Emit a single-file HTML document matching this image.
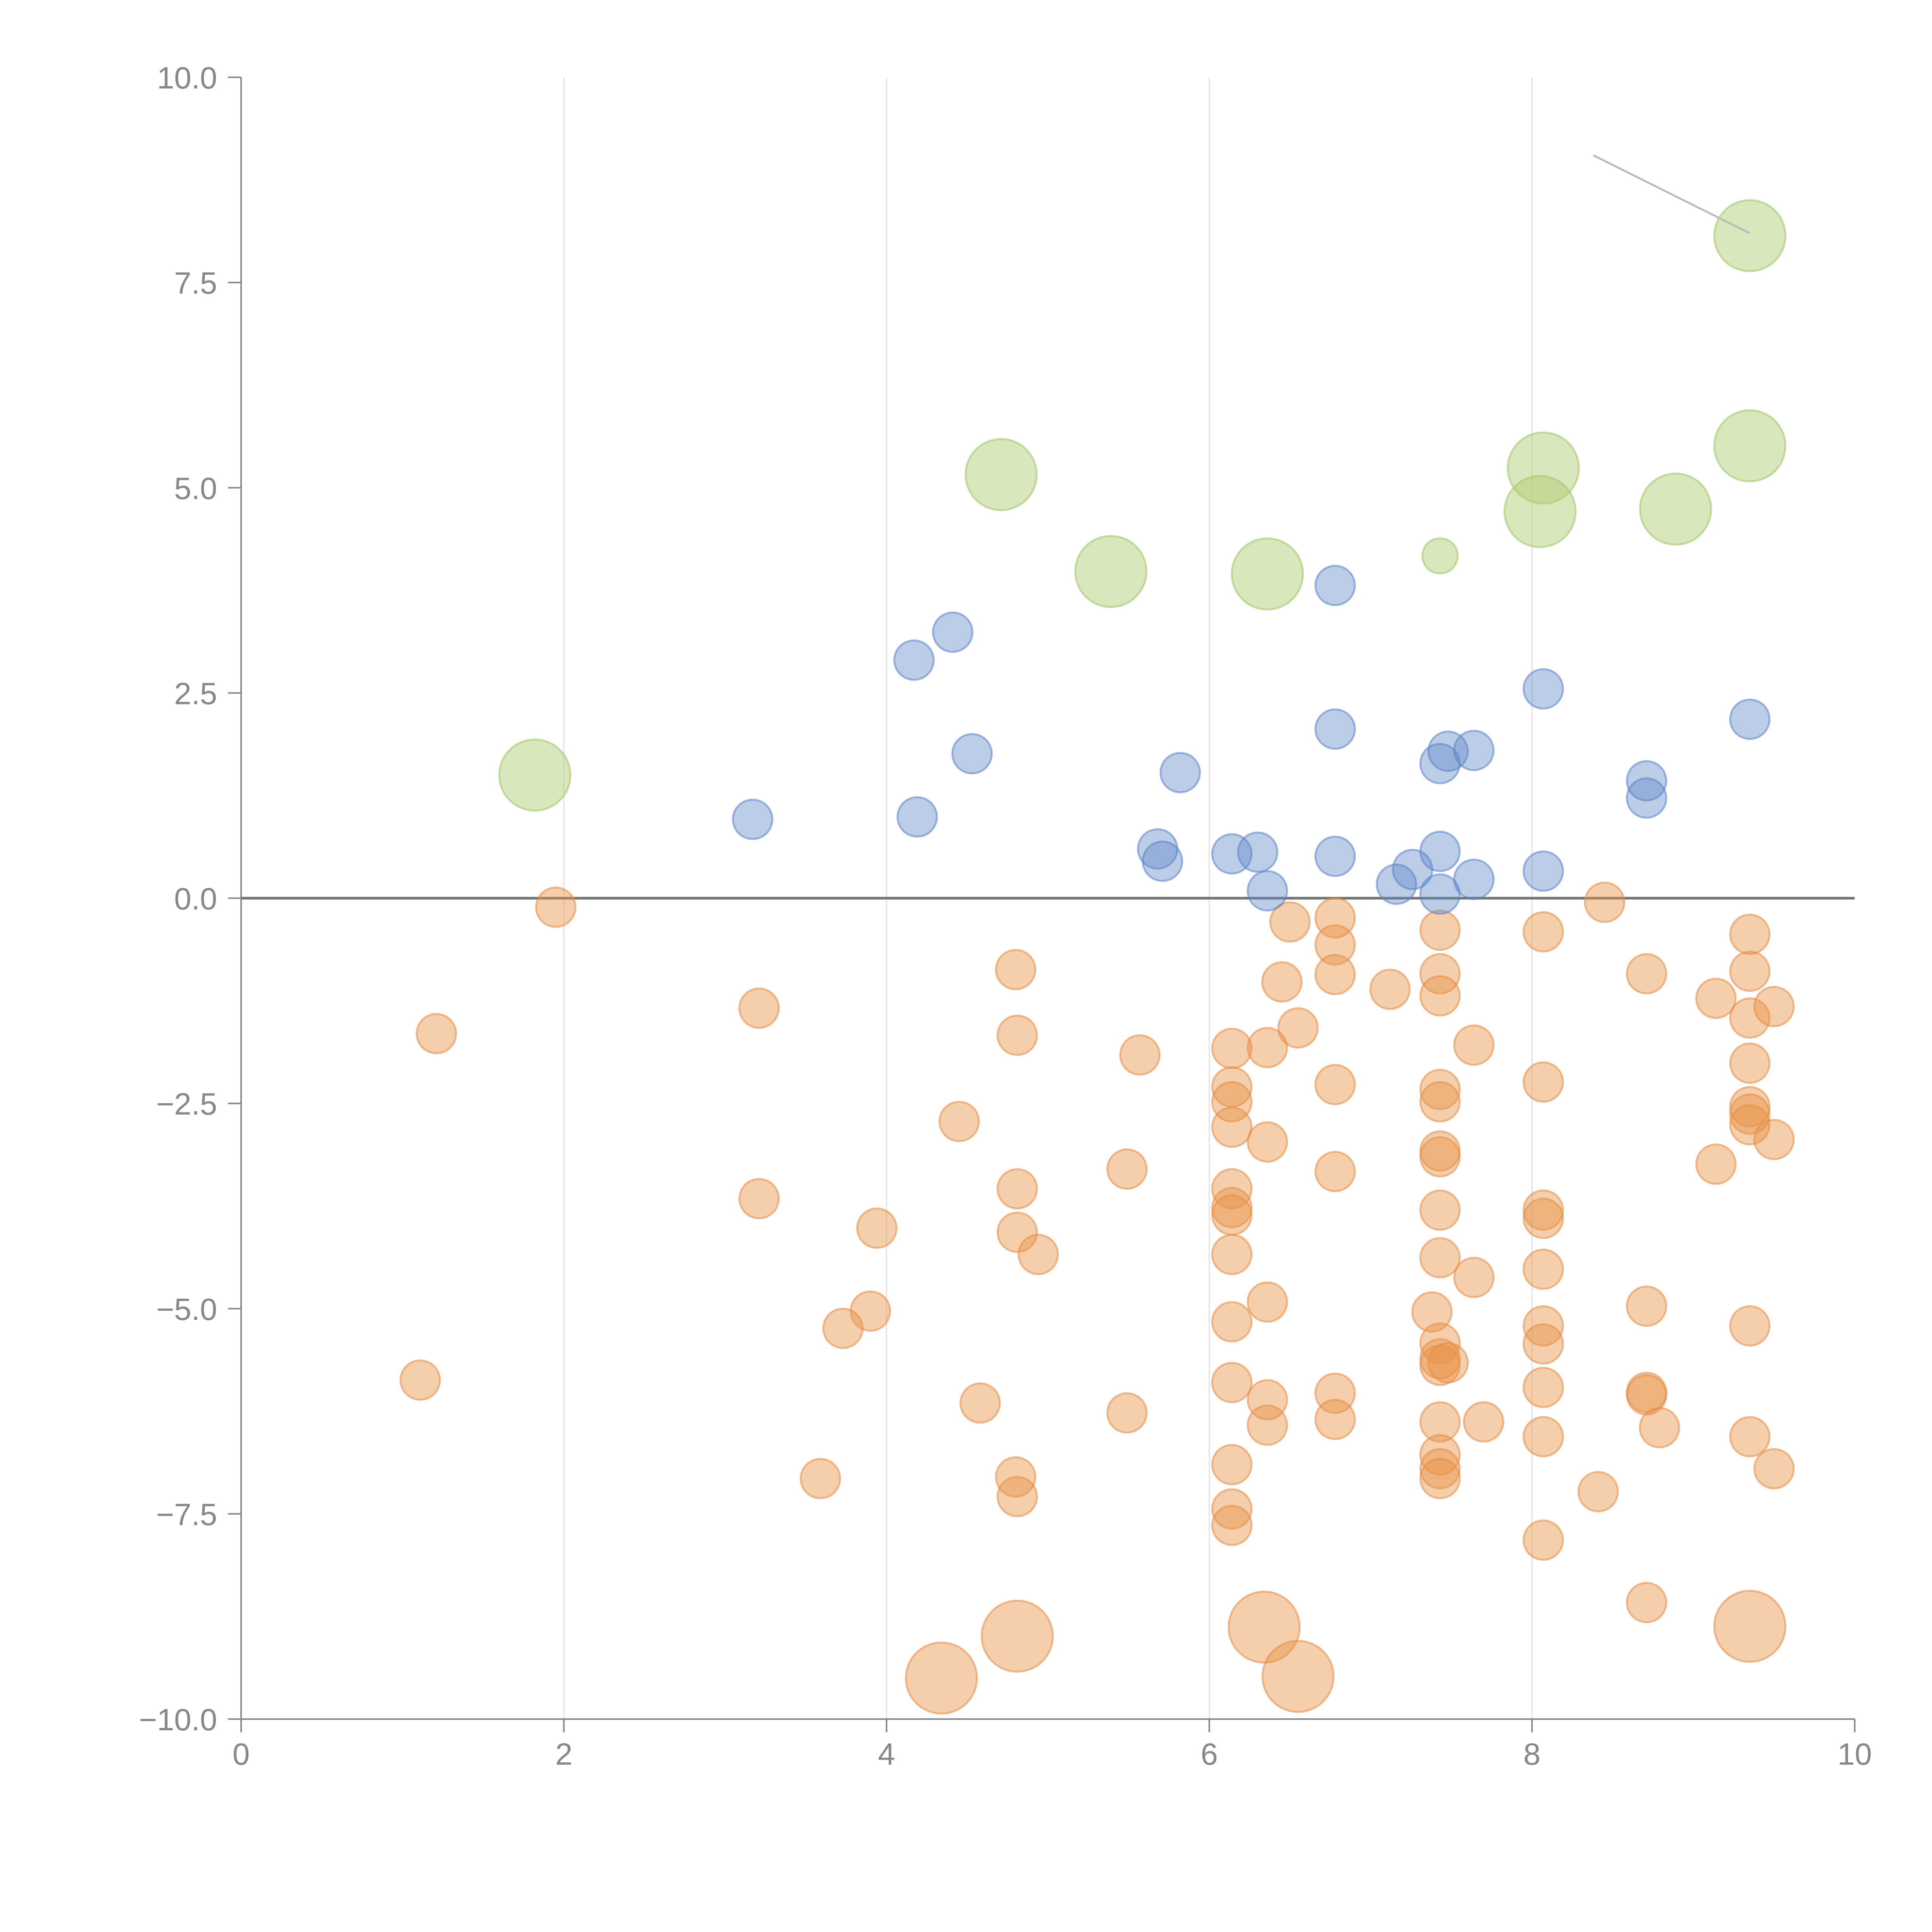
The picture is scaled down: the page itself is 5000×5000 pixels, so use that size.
<!DOCTYPE html>
<html><head><meta charset="utf-8"><style>
html,body{margin:0;padding:0;background:#fff}
svg{display:block}
text{font-family:"Liberation Sans",sans-serif;fill:#888;font-size:80px}
</style></head>
<body>
<svg id="chart" width="5000" height="5000" viewBox="0 0 5000 5000">
<g id="grid"></g>
<g id="axes"></g>
<g id="marks"></g>
</svg>
<script>
const blueX=[3.17,4.17,4.41,4.19,4.53,5.82,5.68,5.71,6.14,6.30,6.36,6.78,6.78,6.78,7.16,7.26,7.43,7.48,7.64,7.43,7.43,7.64,8.07,8.07,8.71,8.71,9.35];
const blueY=[0.96,2.90,3.24,0.99,1.76,1.53,0.60,0.45,0.54,0.56,0.09,3.81,2.06,0.51,0.17,0.35,1.64,1.79,1.80,0.57,0.05,0.23,2.55,0.33,1.43,1.22,2.18];
const greenX=[1.82,4.71,5.39,6.36,7.43,8.07,8.05,8.89,9.35,9.35];
const greenY=[1.50,5.16,3.98,3.95,4.17,5.24,4.71,4.74,5.51,8.07];
const greenS=[3,3,3,3,0.8,3,3,3,3,3];
const orangeX=[1.95,1.21,1.11,3.21,3.21,3.94,3.90,3.73,3.59,4.80,4.81,4.45,4.81,4.81,4.94,4.58,4.80,4.81,5.57,5.49,5.49,6.14,6.14,6.14,6.14,6.14,6.14,6.14,6.14,6.14,6.14,6.14,6.14,6.14,6.36,6.36,6.36,6.36,6.36,6.50,6.45,6.55,6.78,6.78,6.78,6.78,6.78,6.78,6.78,7.12,7.43,7.43,7.43,7.43,7.43,7.43,7.43,7.43,7.43,7.38,7.43,7.43,7.43,7.48,7.43,7.43,7.43,7.43,7.64,7.64,7.70,8.07,8.07,8.07,8.07,8.07,8.07,8.07,8.07,8.07,8.07,8.45,8.41,8.71,8.71,8.71,8.71,8.79,8.71,9.14,9.14,9.35,9.35,9.35,9.35,9.35,9.35,9.35,9.50,9.50,9.35,9.35,9.50,4.34,4.81,6.34,6.55,9.35];
const orangeY=[-0.11,-1.65,-5.87,-1.34,-3.66,-4.02,-5.03,-5.24,-7.07,-0.87,-1.67,-2.72,-3.54,-4.07,-4.34,-6.15,-7.05,-7.29,-1.91,-3.30,-6.27,-1.83,-2.30,-2.48,-2.79,-3.54,-3.77,-3.86,-4.34,-5.16,-5.90,-6.90,-7.44,-7.64,-1.82,-2.97,-4.92,-6.11,-6.42,-0.29,-1.02,-1.58,-0.24,-0.57,-0.93,-2.27,-3.33,-6.03,-6.35,-1.11,-0.39,-0.92,-1.19,-2.33,-2.48,-3.08,-3.15,-3.80,-4.38,-5.04,-5.42,-5.61,-5.69,-5.66,-6.38,-6.78,-6.95,-7.07,-1.79,-4.62,-6.38,-0.41,-2.24,-3.80,-3.90,-4.52,-5.21,-5.43,-5.96,-6.56,-7.82,-0.05,-7.23,-0.92,-4.97,-6.02,-6.05,-6.45,-8.58,-1.22,-3.24,-0.44,-0.89,-1.46,-2.01,-2.54,-2.63,-2.76,-1.32,-2.94,-5.21,-6.56,-6.95,-9.50,-8.99,-8.88,-9.48,-8.87];
const orangeS=orangeY.map((v,i)=>i>=orangeY.length-5?3:1);
const xTicks=[0,2,4,6,8,10];
const yTicks=[-10,-7.5,-5,-2.5,0,2.5,5,7.5,10];
const annoLine=[[8.38,9.05],[9.35,8.10]];

const X0=624,X1=4800,Y0=4449,Y1=200;
const sx=v=>X0+(v-0)/10*(X1-X0);
const sy=v=>Y0-(v+10)/20*(Y0-Y1);
const sr=s=>51*Math.sqrt(s*1.0)*(s>=3?92/(51*Math.sqrt(3)):1);
const NS="http://www.w3.org/2000/svg";
function mk(tag,attrs,parent){const e=document.createElementNS(NS,tag);for(const k in attrs)e.setAttribute(k,attrs[k]);parent.appendChild(e);return e;}
const grid=document.getElementById('grid'),axes=document.getElementById('axes'),marks=document.getElementById('marks');

xTicks.forEach(t=>{
  if(t>0&&t<10){const g=mk('line',{x1:sx(t),x2:sx(t),y1:Y1,y2:Y0,stroke:'#e0e0e0','stroke-width':3},grid);
  
  }
  const tk=mk('line',{x1:sx(t),x2:sx(t),y1:Y0,y2:Y0+34,stroke:'#888','stroke-width':4},axes);
  
  
  const lb=mk('text',{x:sx(t),y:Y0+118,'text-anchor':'middle'},axes);lb.textContent=String(t);
  
  
});
yTicks.forEach(t=>{
  const tk=mk('line',{x1:X0-34,x2:X0,y1:sy(t),y2:sy(t),stroke:'#888','stroke-width':4},axes);
  
  
  const lb=mk('text',{x:X0-62,y:sy(t)+29,'text-anchor':'end'},axes);lb.textContent=t.toFixed(1).replace('-','\u2212');
  
  
});
const ya=mk('line',{x1:X0,x2:X0,y1:Y1,y2:Y0,stroke:'#888','stroke-width':4},axes);


const xa=mk('line',{x1:X0,x2:X1,y1:Y0,y2:Y0,stroke:'#888','stroke-width':4},axes);


const zl=mk('line',{x1:X0,x2:X1,y1:sy(0),y2:sy(0),stroke:'#777','stroke-width':7},axes);



function series(xs,ys,ss,fill,stroke,name){
  xs.forEach((x,i)=>{
    const c=mk('circle',{cx:sx(x),cy:sy(ys[i]),r:ss?sr(ss[i]):51,fill:fill,stroke:stroke,'stroke-width':5},marks);
    
    
  });
}
series(orangeX,orangeY,orangeS,'rgba(232,146,70,0.45)','rgba(225,140,70,0.55)','orange');
series(blueX,blueY,null,'rgba(95,135,200,0.42)','rgba(90,130,200,0.55)','blue');
series(greenX,greenY,greenS,'rgba(175,205,115,0.48)','rgba(165,200,110,0.6)','green');
const al=mk('line',{x1:sx(annoLine[0][0]),y1:sy(annoLine[0][1]),x2:sx(annoLine[1][0]),y2:sy(annoLine[1][1]),stroke:'#bbb','stroke-width':5},marks);


</script>
</body></html>
